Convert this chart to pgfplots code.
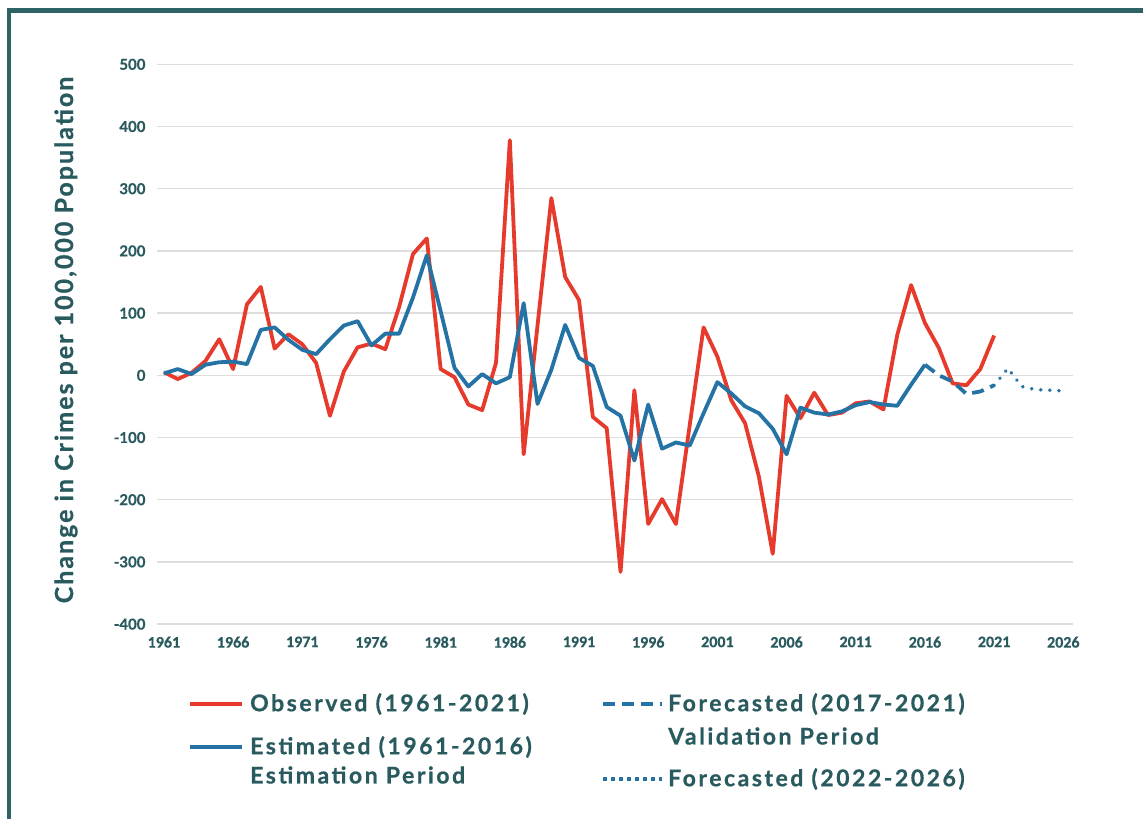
\documentclass[border=0pt]{standalone}
\usepackage{pgfplots}
\pgfplotsset{compat=1.18}
\usepackage{pgfplotstable}
\usepackage{fontspec}
\setmainfont{Lato}[UprightFont=* Bold, FakeBold=0.5]
\newfontfamily\tickfont{Carlito}[UprightFont=* Bold, FakeBold=0.4]
\newfontfamily\labfont{Lato}[UprightFont=* Bold, LetterSpace=8, FakeBold=0.7]
\newfontfamily\legfont{Lato}[UprightFont=* Bold, LetterSpace=11, FakeBold=0.7]
\definecolor{obsred}{HTML}{E63B2C}
\definecolor{estblue}{HTML}{2573A5}
\definecolor{txt}{HTML}{285A5E}
\definecolor{frame}{HTML}{2E6366}
\definecolor{gridc}{HTML}{DDDDDD}

\pgfplotstableread{
year val
1961 5
1962 -6
1963 4
1964 23
1965 58
1966 10
1967 114
1968 142
1969 43
1970 66
1971 50
1972 20
1973 -65
1974 6
1975 45
1976 51
1977 42
1978 110
1979 195
1980 220
1981 10
1982 -3
1983 -47
1984 -56
1985 20
1986 378
1987 -127
1988 80
1989 285
1990 158
1991 121
1992 -67
1993 -85
1994 -316
1995 -24
1996 -239
1997 -199
1998 -239
1999 -80
2000 77
2001 30
2002 -40
2003 -77
2004 -163
2005 -287
2006 -33
2007 -69
2008 -28
2009 -64
2010 -60
2011 -45
2012 -42
2013 -55
2014 65
2015 145
2016 84
2017 44
2018 -13
2019 -16
2020 10
2021 64
}\observed

\pgfplotstableread{
year val
1961 3
1962 10
1963 2
1964 17
1965 21
1966 22
1967 18
1968 73
1969 77
1970 57
1971 41
1972 34
1973 58
1974 80
1975 87
1976 48
1977 67
1978 67
1979 125
1980 193
1981 103
1982 12
1983 -18
1984 2
1985 -13
1986 -3
1987 116
1988 -46
1989 9
1990 81
1991 28
1992 15
1993 -51
1994 -65
1995 -137
1996 -47
1997 -118
1998 -108
1999 -113
2000 -61
2001 -11
2002 -29
2003 -50
2004 -61
2005 -86
2006 -127
2007 -52
2008 -60
2009 -63
2010 -58
2011 -48
2012 -43
2013 -47
2014 -49
2015 -15
2016 17
}\estimated

\pgfplotstableread{
year val
2016 17
2017 0
2018 -10
2019 -30
2020 -26
2021 -16
}\validation

\pgfplotstableread{
year val
2021 -16
2022 11
2023 -18
2024 -23
2025 -24
2026 -25
}\forecast

\begin{document}
\begin{tikzpicture}
\path[use as bounding box] (0pt,0pt) rectangle (1143pt,-819pt);
\fill[white] (0pt,0pt) rectangle (1143pt,-819pt);
\begin{axis}[
  scale only axis,
  width=916pt, height=559.8pt,
  at={(157pt,-624.1pt)}, anchor=south west,
  xmin=1960.5, xmax=2026.7,
  ymin=-400, ymax=500,
  xtick={1961,1966,...,2026},
  ytick={-400,-300,...,500},
  xticklabel style={font=\tickfont\fontsize{16}{16}\selectfont, text=txt, yshift=-9pt},
  yticklabel style={font=\fontsize{15}{15}\selectfont, text=txt, xshift=-8pt},
  /pgf/number format/assume math mode=true,
  /pgf/number format/1000 sep={},
  axis line style={draw=none},
  major tick length=0pt,
  ymajorgrids,
  grid style={gridc, line width=1.5pt},
  clip=false,
]
\addplot[obsred, line width=3.8pt, line join=round] table[x=year,y=val] {\observed};
\addplot[estblue, line width=3.8pt, line join=round] table[x=year,y=val] {\estimated};
\addplot[estblue, line width=3.8pt, dash pattern=on 12pt off 7pt] table[x=year,y=val] {\validation};
\addplot[estblue, line width=3.8pt, line cap=round, dash pattern=on 0.1pt off 9pt] table[x=year,y=val] {\forecast};
\end{axis}
% y label
\node[rotate=90, text=txt, font=\labfont\fontsize{25}{25}\selectfont] at (66pt,-340pt) {Change in Crimes per 100,000 Population};
% legend
\draw[obsred, line width=4pt] (190pt,-704pt) -- (242pt,-704pt);
\draw[estblue, line width=4pt] (190pt,-746.5pt) -- (242pt,-746.5pt);
\draw[estblue, line width=4pt, dash pattern=on 12pt off 7pt] (603pt,-704pt) -- (662pt,-704pt);
\draw[estblue, line width=4pt, dash pattern=on 4pt off 4pt] (603pt,-779pt) -- (662pt,-779pt);
\begin{scope}[every node/.style={anchor=west, text=txt, font=\legfont\fontsize{23}{23}\selectfont, inner sep=0pt}]
\node at (250pt,-704pt) {Observed (1961-2021)};
\node at (250pt,-747pt) {Estimated (1961-2016)};
\node at (250pt,-775pt) {Estimation Period};
\node at (668pt,-704pt) {Forecasted (2017-2021)};
\node at (668pt,-736pt) {Validation Period};
\node at (668pt,-779pt) {Forecasted (2022-2026)};
\end{scope}
% frame
\draw[frame, line width=4.5pt] (9pt,-819pt) -- (9pt,-10.5pt) -- (1143pt,-10.5pt);
\end{tikzpicture}
\end{document}
